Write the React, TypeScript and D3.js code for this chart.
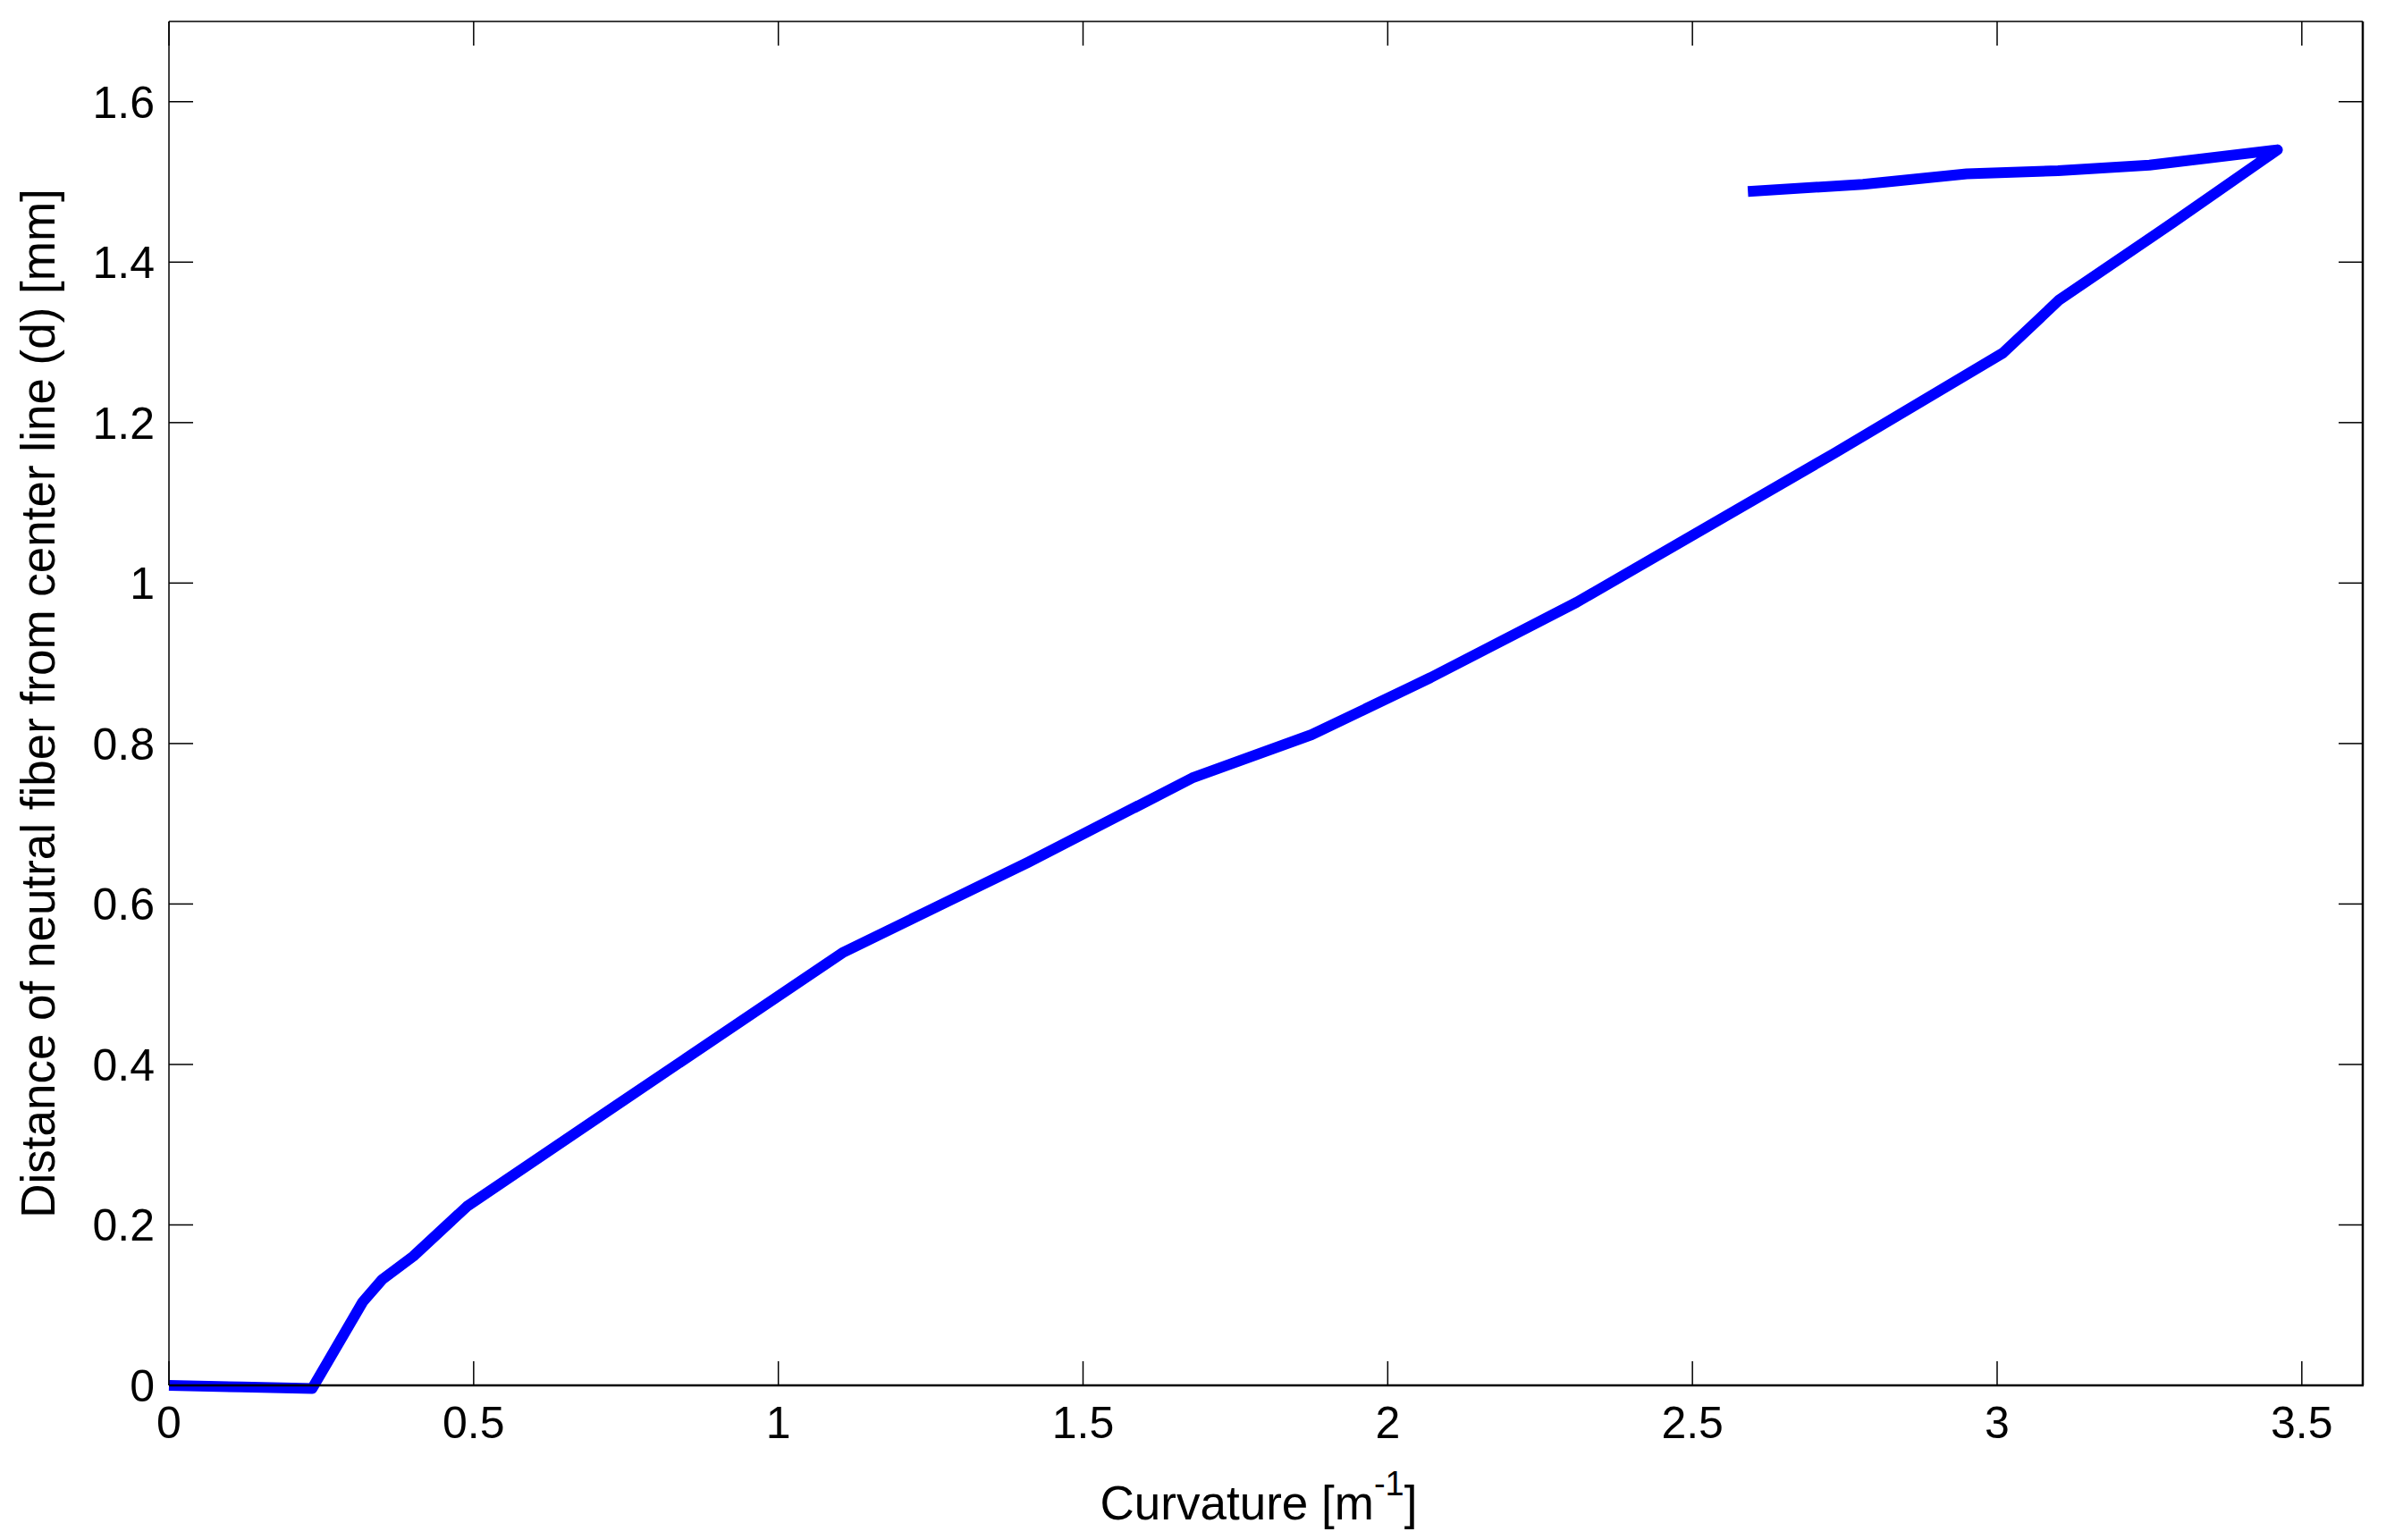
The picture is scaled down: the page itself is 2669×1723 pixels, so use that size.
import React, { useEffect, useRef } from 'react';
import * as d3 from 'd3';

// curvature [1/m]
const curvature = [
	0, 0.12, 0.235, 0.318, 0.35, 0.401, 0.489, 0.734, 1.107, 1.41, 1.679,
	1.875, 2.07, 2.31, 2.731, 3.01, 3.102, 3.288, 3.46, 3.25, 3.1, 2.95,
	2.78, 2.591,
];
// distance of neutral fiber [mm]
const distance = [
	0, -0.002, -0.004, 0.104, 0.132, 0.161, 0.223, 0.349, 0.54, 0.652,
	0.757, 0.811, 0.882, 0.976, 1.161, 1.287, 1.353, 1.449, 1.54, 1.521,
	1.514, 1.51, 1.497, 1.488,
];

const xTicks = [0, 0.5, 1, 1.5, 2, 2.5, 3, 3.5];
const yTicks = [0, 0.2, 0.4, 0.6, 0.8, 1, 1.2, 1.4, 1.6];

const W = 2669;
const H = 1723;

export default function App() {
	const svgRef = useRef(null);

	useEffect(() => {
		const svg = d3.select(svgRef.current);
		svg.selectAll('*').remove();

		const left = 189;
		const right = 2643;
		const top = 24;
		const bottom = 1550;
		const tickLen = 27;
		const font = '"Liberation Sans", Arial, sans-serif';

		const x = d3.scaleLinear().domain([0, 3.6]).range([left, right]);
		const y = d3.scaleLinear().domain([0, 1.7]).range([bottom, top]);

		svg.append('rect')
			.attr('width', W)
			.attr('height', H)
			.attr('fill', '#fff');

		const data = curvature.map((c, i) => ({ x: c, y: distance[i] }));

		// ticks (inward, mirrored on top/right)
		const g = svg.append('g').attr('stroke', '#000').attr('stroke-width', 1.5);
		xTicks.forEach((t) => {
			const px = x(t);
			g.append('line').attr('x1', px).attr('x2', px).attr('y1', bottom).attr('y2', bottom - tickLen);
			g.append('line').attr('x1', px).attr('x2', px).attr('y1', top).attr('y2', top + tickLen);
		});
		yTicks.forEach((t) => {
			const py = y(t);
			g.append('line').attr('x1', left).attr('x2', left + tickLen).attr('y1', py).attr('y2', py);
			g.append('line').attr('x1', right).attr('x2', right - tickLen).attr('y1', py).attr('y2', py);
		});

		// curve
		svg.append('path')
			.datum(data)
			.attr('fill', 'none')
			.attr('stroke', '#0000ff')
			.attr('stroke-width', 12)
			.attr('stroke-linejoin', 'round')
			.attr(
				'd',
				d3
					.line()
					.x((d) => x(d.x))
					.y((d) => y(d.y))
			);

		// box
		svg.append('line').attr('x1', left).attr('x2', right).attr('y1', top).attr('y2', top)
			.attr('stroke', '#000').attr('stroke-width', 1.5);
		svg.append('line').attr('x1', left).attr('x2', left).attr('y1', top).attr('y2', bottom)
			.attr('stroke', '#000').attr('stroke-width', 1.5);
		svg.append('line').attr('x1', left).attr('x2', right + 1).attr('y1', bottom).attr('y2', bottom)
			.attr('stroke', '#000').attr('stroke-width', 2.5);
		svg.append('line').attr('x1', right).attr('x2', right).attr('y1', top).attr('y2', bottom)
			.attr('stroke', '#000').attr('stroke-width', 2.5);

		// tick labels
		svg.append('g')
			.selectAll('text')
			.data(xTicks)
			.join('text')
			.attr('x', (d) => x(d))
			.attr('y', 1609)
			.attr('text-anchor', 'middle')
			.attr('font-family', font)
			.attr('font-size', 50)
			.text((d) => String(d));

		svg.append('g')
			.selectAll('text')
			.data(yTicks)
			.join('text')
			.attr('x', 173)
			.attr('y', (d) => y(d))
			.attr('dy', '0.36em')
			.attr('text-anchor', 'end')
			.attr('font-family', font)
			.attr('font-size', 50)
			.text((d) => String(d));

		// axis labels
		const xl = svg.append('text')
			.attr('x', (left + right) / 2 - 8)
			.attr('y', 1700)
			.attr('text-anchor', 'middle')
			.attr('font-family', font)
			.attr('font-size', 53);
		xl.append('tspan').text('Curvature [m');
		xl.append('tspan').attr('font-size', 38).attr('dy', -27).text('-1');
		xl.append('tspan').attr('dy', 27).text(']');

		svg.append('text')
			.attr('transform', `translate(61,${(top + bottom) / 2}) rotate(-90)`)
			.attr('text-anchor', 'middle')
			.attr('font-family', font)
			.attr('font-size', 53)
			.text('Distance of neutral fiber from center line (d) [mm]');
	}, []);

	return (
		<svg
			ref={svgRef}
			width={W}
			height={H}
			style={{ position: 'absolute', left: 0, top: 0, display: 'block' }}
		/>
	);
}
